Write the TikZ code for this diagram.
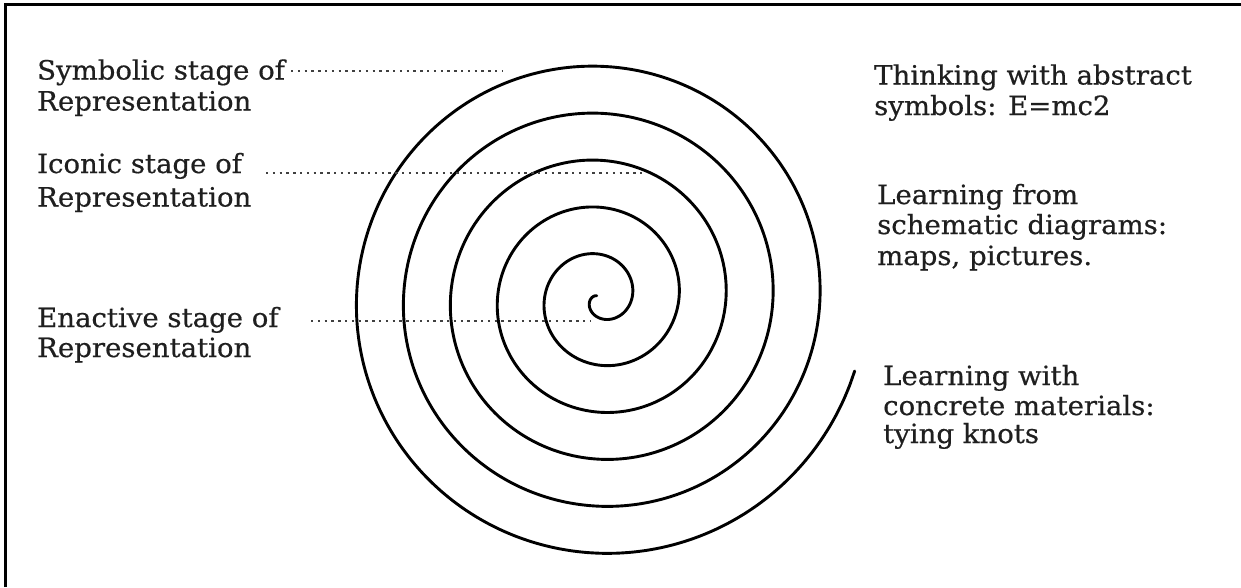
\documentclass[tikz,border=0pt]{standalone}
\usepackage{fontspec}
\setmainfont{DejaVu Serif}[FakeStretch=1.04,FakeBold=0.5]
\begin{document}
\begin{tikzpicture}[x=1pt,y=-1pt,
  lbl/.style={anchor=base west,inner sep=0pt,text=black!88,font=\fontsize{26.5}{31}\selectfont},
  guide/.style={draw=black!75,line width=1.8pt,dash pattern=on 2.4pt off 4.4pt},
  spiralline/.style={draw=black,line width=2.9pt,line cap=round,line join=round},
  frameline/.style={draw=black,line width=3pt}]
\useasboundingbox (0,0) rectangle (1241,587);
\fill[white] (0,0) rectangle (1241,587);
% partial frame (left and top edges)
\coordinate (fbl) at (5,587);
\coordinate (ftl) at (5,4);
\coordinate (ftr) at (1241,4);
\draw[frameline] (fbl) -- (ftl) -- (ftr);
% spiral
\draw[spiralline] plot[domain=-215:1784,samples=600,smooth,variable=\t]
  ({600+(32+0.130556*\t)*cos(\t)},{298-(32+0.130556*\t)*sin(\t)});
% left labels
\node[lbl] (sym1) at (37,79.5) {Symbolic stage of};
\node[lbl] (sym2) at (37,110.5) {Representation};
\node[lbl] (ico1) at (37,173) {Iconic stage of};
\node[lbl] (ico2) at (37,206.5) {Representation};
\node[lbl] (ena1) at (37,327) {Enactive stage of};
\node[lbl] (ena2) at (37,357) {Representation};
% right labels
\node[lbl] (thi1) at (874,84.5) {Thinking with abstract};
\node[lbl] (thi2) at (874,115) {symbols: E=mc2};
\node[lbl] (lfr1) at (877,204) {Learning from};
\node[lbl] (lfr2) at (877,234) {schematic diagrams:};
\node[lbl] (lfr3) at (877,265) {maps, pictures.};
\node[lbl] (lwi1) at (883,385) {Learning with};
\node[lbl] (lwi2) at (883,415) {concrete materials:};
\node[lbl] (lwi3) at (883,443) {tying knots};
% dotted guides
\coordinate (gs0) at (291,71);  \coordinate (gs1) at (503,71);
\coordinate (gi0) at (266,173); \coordinate (gi1) at (643,173);
\coordinate (ge0) at (311,321); \coordinate (ge1) at (590,321);
\draw[guide] (gs0) -- (gs1);
\draw[guide] (gi0) -- (gi1);
\draw[guide] (ge0) -- (ge1);
\end{tikzpicture}
\end{document}
